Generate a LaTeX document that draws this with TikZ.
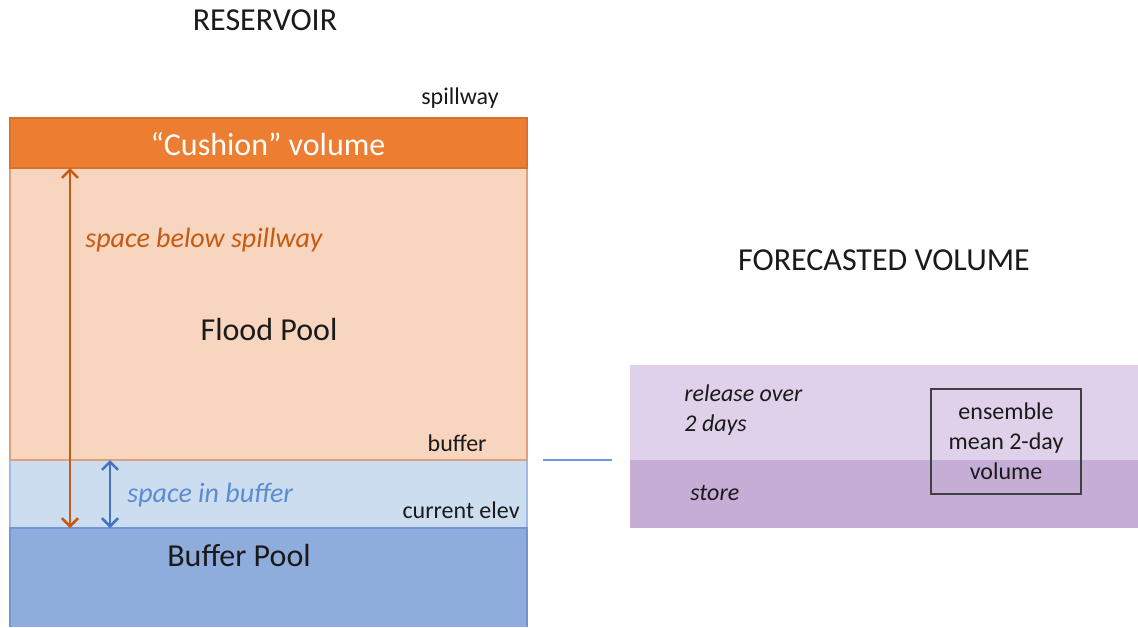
\documentclass[tikz,border=0pt]{standalone}
\usepackage{fontspec}
\setmainfont{Carlito}
\usetikzlibrary{arrows.meta}
\definecolor{cushfill}{HTML}{ED7D31}
\definecolor{cushdraw}{HTML}{D9712C}
\definecolor{floodfill}{HTML}{F8D5BF}
\definecolor{flooddraw}{HTML}{DFA17C}
\definecolor{buffill}{HTML}{CCDDEF}
\definecolor{bufdraw}{HTML}{9DBBE3}
\definecolor{poolfill}{HTML}{8FADDC}
\definecolor{pooldraw}{HTML}{7396D2}
\definecolor{arrorange}{HTML}{C55A11}
\definecolor{arrblue}{HTML}{4472C4}
\definecolor{txtblue}{HTML}{5B8CD2}
\definecolor{purlight}{HTML}{E0D1EA}
\definecolor{purdark}{HTML}{C6ADD6}
\definecolor{linkblue}{HTML}{6F9BDD}
\definecolor{txtdark}{HTML}{1A1A1A}
\tikzset{
  big/.style={font=\fontsize{16}{19}\selectfont, text=txtdark, inner sep=0pt},
  small/.style={font=\fontsize{12}{15}\selectfont, text=txtdark, inner sep=0pt},
  itl/.style={font=\fontsize{14}{17}\selectfont\itshape, inner sep=0pt},
  itsmall/.style={font=\fontsize{12}{15}\selectfont\itshape, text=txtdark, inner sep=0pt},
  dimarrow/.style={line width=1.3pt, {Straight Barb[length=4pt,width=8pt,line width=1.3pt]}-{Straight Barb[length=4pt,width=8pt,line width=1.3pt]}},
  region/.style={line width=0.6pt},
}
\begin{document}
\begin{tikzpicture}[x=0.5pt,y=-0.5pt]
\useasboundingbox (0,0) rectangle (1138,627);
% reservoir regions
\fill[floodfill] (10,168) rectangle (527,460);
\draw[flooddraw,region] (10,168) rectangle (527,460);
\fill[buffill] (10,460) rectangle (527,528);
\draw[bufdraw,region] (10,460) -- (10,528) (527,460) -- (527,528);
\fill[poolfill] (10,528) rectangle (527,627);
\draw[pooldraw,region] (10,627) -- (10,528) -- (527,528) -- (527,627);
\draw[flooddraw,region] (10,460) -- (527,460);
\fill[cushfill] (10,118) rectangle (527,168);
\draw[cushdraw,region] (10,118) rectangle (527,168);
% arrow end points
\coordinate (spilltop) at (70,168);
\coordinate (spillbot) at (70,528);
\coordinate (buftop) at (110,460);
\coordinate (bufbot) at (110,528);
\draw[dimarrow,arrorange] (spilltop) -- (spillbot);
\draw[dimarrow,arrblue] (buftop) -- (bufbot);
% texts
\node[big] (reservoir) at (265,20) {RESERVOIR};
\node[small] (spillway) at (460,98) {spillway};
\node[big,text=white] (cushion) at (268,144) {“Cushion” volume};
\node[itl,text=arrorange,anchor=west] (spacebelow) at (85,240) {space below spillway};
\node[big] (floodpool) at (269,329) {Flood Pool};
\node[small,anchor=east] (bufferlbl) at (487,443) {buffer};
\node[itl,text=txtblue,anchor=west] (spacein) at (127,495) {space in buffer};
\node[small,anchor=east] (curelev) at (520,510) {current elev};
\node[big] (bufferpool) at (239,555) {Buffer Pool};
% forecast
\node[big] (forecast) at (884,260) {FORECASTED VOLUME};
\fill[purlight] (630,365) rectangle (1138,460);
\fill[purdark] (630,460) rectangle (1138,528);
\coordinate (linkL) at (543,460);
\coordinate (linkR) at (612,460);
\draw[linkblue,line width=0.7pt] (linkL) -- (linkR);
\node[itsmall,anchor=west,align=left] (release) at (684,410) {release over\\2 days};
\node[itsmall,anchor=west] (store) at (690,493) {store};
\node[small,draw=black!75,line width=0.7pt,minimum width=75pt,minimum height=52.5pt,align=center] (ensemble) at (1006,441.5) {ensemble\\mean 2-day\\volume};
\end{tikzpicture}
\end{document}
